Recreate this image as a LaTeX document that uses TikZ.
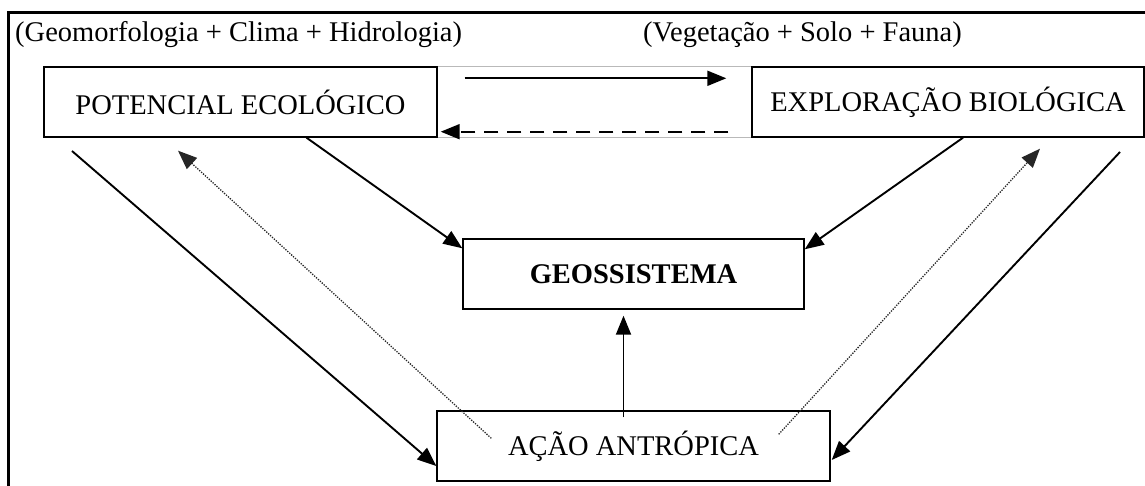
\documentclass[tikz,border=0pt]{standalone}
\usepackage{fontspec}
\setmainfont{Liberation Serif}
\usetikzlibrary{arrows.meta}

\begin{document}
\begin{tikzpicture}[x=1pt,y=-1pt,block/.style={draw,line width=1.4pt,rectangle,minimum height=70pt,inner sep=0pt,font=\fontsize{28.5}{32}\selectfont},
  grouplabel/.style={anchor=base west,inner sep=0pt,font=\fontsize{28.5}{32}\selectfont},
  tip/.style={-{Triangle[length=19pt,width=15pt]},line width=1.9pt}]
\def\yTop{102}
\def\yMid{274}
\def\yLow{446}
\useasboundingbox (0,0) rectangle (1145,486);
  %\draw[help lines,step=50] (0,0) grid (1145,486);
  \draw[line width=3pt] (8,486) -- (8,12.5) -- (1145,12.5);
\path
(15,42) node [grouplabel] (geoLabel) {(Geomorfologia + Clima + Hidrologia)}
(643,42) node [grouplabel] (bioLabel) {(Vegetação + Solo + Fauna)}
(240.5,\yTop) node [block,minimum width=393pt] (pot) {POTENCIAL ECOLÓGICO}
(948,\yTop) node [block,minimum width=392pt] (exp) {EXPLORAÇÃO BIOLÓGICA}
(633.5,\yMid) node [block,minimum width=341pt] (geo) {\bfseries GEOSSISTEMA}
(633.5,\yLow) node [block,minimum width=393pt] (acao) {AÇÃO ANTRÓPICA}
;
\coordinate (leftStart) at (72,151);
\coordinate (rightStart) at (1120,152);

  % exchange between the two top boxes
  \draw[gray!55,line width=0.7pt] (pot.north east) -- (exp.north west) (pot.south east) -- (exp.south west);
  \draw[tip] ([shift={(27,12)}]pot.north east) -- ([shift={(-25,12)}]exp.north west);
  \draw[tip,dash pattern=on 14pt off 9pt] ([shift={(-23,-6)}]exp.south west) -- ([shift={(3,-6)}]pot.south east);

\draw[tip] ([xshift=66pt]pot.south) -- ([shift={(0,10)}]geo.north west);
\draw[tip] ([xshift=15pt]exp.south) -- ([shift={(0,11)}]geo.north east);
\draw[tip] ([shift={(-10,7)}]acao.north) -- ([shift={(-10,6)}]geo.south);

\draw[tip] (leftStart) -- ([shift={(0,20)}]acao.west);
\draw[tip] (rightStart) -- ([shift={(1,14)}]acao.east);

\begin{scope}[every path/.style={draw,tip,line width=1.3pt,dash pattern=on 1.3pt off 1.3pt,black!85}]
\path ([shift={(55,28)}]acao.north west) -- ([shift={(-62.5,13)}]pot.south);
\path ([shift={(-52,24)}]acao.north east) -- ([shift={(92,11)}]exp.south);
\end{scope}
\end{tikzpicture}
\end{document}
